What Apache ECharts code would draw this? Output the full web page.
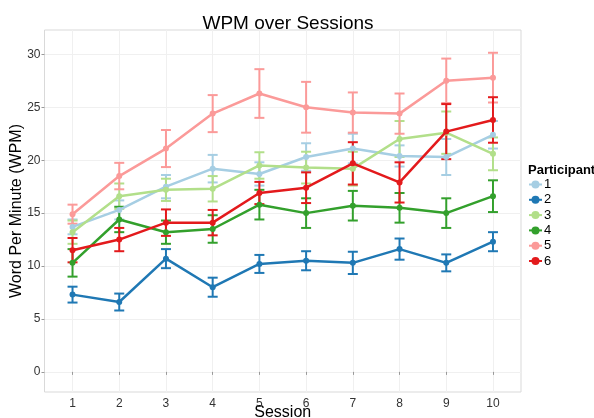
<!DOCTYPE html>
<html>
<head>
<meta charset="utf-8">
<title>WPM over Sessions</title>
<script src="https://cdn.jsdelivr.net/npm/echarts@6/dist/echarts.min.js"></script>
<style>
	html, body { margin: 0; padding: 0; background: #fff; }
	#chart { width: 594px; height: 418px; }
</style>
</head>
<body>
<div id="chart"></div>
<script>
	var sessions = [1, 2, 3, 4, 5, 6, 7, 8, 9, 10];
	var participants = ['1', '2', '3', '4', '5', '6'];
	var yTicks = [0, 5, 10, 15, 20, 25, 30];

	// mean WPM and error (half bar) per participant
	var mean1 = [13.7, 15.3, 17.5, 19.2, 18.7, 20.3, 21.1, 20.4, 20.3, 22.4];
	var err1 = [0.7, 0.9, 1.1, 1.3, 1.1, 1.3, 1.4, 1.0, 1.7, 1.3];
	var mean2 = [7.3, 6.6, 10.7, 8.0, 10.2, 10.5, 10.3, 11.6, 10.3, 12.3];
	var err2 = [0.75, 0.8, 0.9, 0.9, 0.85, 0.9, 1.05, 1.0, 0.8, 0.9];
	var mean3 = [13.2, 16.6, 17.2, 17.3, 19.5, 19.3, 19.2, 22.0, 22.6, 20.6];
	var err3 = [1.1, 1.2, 1.05, 1.2, 1.25, 1.5, 1.6, 1.7, 2.0, 1.55];
	var mean4 = [10.3, 14.4, 13.2, 13.5, 15.8, 15.0, 15.7, 15.5, 15.0, 16.6];
	var err4 = [1.3, 1.2, 1.1, 1.3, 1.4, 1.4, 1.4, 1.4, 1.4, 1.5];
	var mean5 = [14.9, 18.5, 21.1, 24.4, 26.3, 25.0, 24.5, 24.4, 27.5, 27.8];
	var err5 = [0.9, 1.25, 1.75, 1.75, 2.3, 2.4, 1.9, 1.9, 2.1, 2.35];
	var mean6 = [11.5, 12.5, 14.1, 14.1, 16.9, 17.4, 19.7, 17.9, 22.7, 23.8];
	var err6 = [1.15, 1.1, 1.25, 1.2, 1.05, 1.45, 2.0, 1.9, 2.6, 2.15];

	var colors = ['#A6CEE3', '#1F78B4', '#B2DF8A', '#33A02C', '#FB9A99', '#E31A1C'];
	var means = [mean1, mean2, mean3, mean4, mean5, mean6];
	var errs = [err1, err2, err3, err4, err5, err6];

	var chart = echarts.init(document.getElementById('chart'));

	var lineSeries = [];
	var barSeries = [];
	participants.forEach(function (p, i) {
		lineSeries.push({
			name: p,
			type: 'line',
			data: sessions.map(function (s, j) { return [s, means[i][j]]; }),
			symbol: 'circle',
			symbolSize: 6,
			color: colors[i],
			lineStyle: { width: 2.5, color: colors[i] },
			itemStyle: { color: colors[i] },
			z: 3 + i * 0.01
		});
		// error bars: vertical line with caps
		barSeries.push({
			name: 'err' + p,
			type: 'custom',
			data: sessions.map(function (s, j) {
				return [s, means[i][j] - errs[i][j], means[i][j] + errs[i][j]];
			}),
			encode: { x: 0, y: [1, 2] },
			renderItem: function (params, api) {
				var lo = api.coord([api.value(0), api.value(1)]);
				var hi = api.coord([api.value(0), api.value(2)]);
				var w = 5;
				var st = { stroke: colors[i], lineWidth: 2 };
				return {
					type: 'group',
					children: [
						{ type: 'line', shape: { x1: lo[0], y1: lo[1], x2: hi[0], y2: hi[1] }, style: st },
						{ type: 'line', shape: { x1: lo[0] - w, y1: lo[1], x2: lo[0] + w, y2: lo[1] }, style: st },
						{ type: 'line', shape: { x1: hi[0] - w, y1: hi[1], x2: hi[0] + w, y2: hi[1] }, style: st }
					]
				};
			},
			z: 2 + i * 0.01
		});
	});

	var option = {
		animation: false,
		title: {
			text: 'WPM over Sessions',
			left: 283,
			top: 9,
			textAlign: 'center',
			textStyle: { fontFamily: 'Liberation Sans', fontSize: 19, fontWeight: 'normal', color: '#000' }
		},
		grid: {
			left: 44.5,
			right: 73,
			top: 30,
			bottom: 26,
			containLabel: false,
			outerBoundsMode: 'none',
			show: true,
			borderColor: '#d9d9d9',
			borderWidth: 1
		},
		legend: {
			data: participants,
			orient: 'vertical',
			left: 528,
			top: 178,
			padding: 0,
			itemWidth: 13,
			itemHeight: 10,
			itemGap: 2.3,
			textStyle: { fontFamily: 'Liberation Sans', fontSize: 13, color: '#000', lineHeight: 10, padding: [0, 0, 0, -3] }
		},
		graphic: [{
			type: 'text',
			left: 528,
			top: 164,
			style: { text: 'Participant', font: 'bold 13px "Liberation Sans"', fill: '#000' }
		}],
		xAxis: {
			type: 'value',
			min: 0.4,
			max: 10.6,
			name: 'Session',
			nameLocation: 'middle',
			nameGap: 13,
			nameMoveOverlap: false,
			nameTextStyle: { fontFamily: 'Liberation Sans', fontSize: 16, color: '#000' },
			axisLine: { show: false },
			axisTick: { show: true, customValues: sessions, length: 3, lineStyle: { color: '#999' } },
			axisLabel: { customValues: sessions, margin: 5.5, fontFamily: 'Liberation Sans', fontSize: 12, color: '#333' },
			splitLine: { show: true, lineStyle: { color: '#f0f0f0', width: 1 } }
		},
		yAxis: {
			type: 'value',
			min: -1.9,
			max: 32.3,
			name: 'Word Per Minute (WPM)',
			nameLocation: 'middle',
			nameGap: 20,
			nameMoveOverlap: false,
			nameTextStyle: { fontFamily: 'Liberation Sans', fontSize: 16, color: '#000' },
			axisLine: { show: false },
			axisTick: { show: true, customValues: yTicks, length: 3, lineStyle: { color: '#999' } },
			axisLabel: { customValues: yTicks, margin: 4, fontFamily: 'Liberation Sans', fontSize: 12, color: '#333' },
			splitLine: { show: true, lineStyle: { color: '#f0f0f0', width: 1 } }
		},
		series: lineSeries.concat(barSeries)
	};

	chart.setOption(option);
</script>
</body>
</html>
